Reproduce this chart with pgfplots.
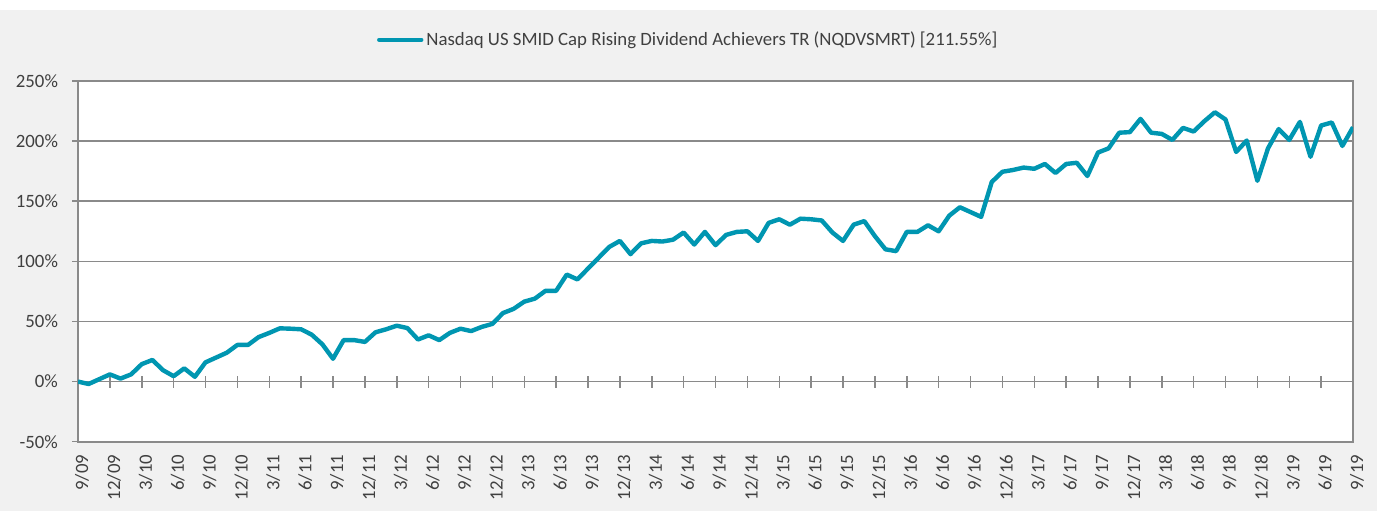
\documentclass[border=0pt]{standalone}
\usepackage{fontspec}
\setmainfont{Carlito}
\usepackage{pgfplots}
\pgfplotsset{compat=1.18}
\definecolor{lineteal}{HTML}{0096B1}
\definecolor{bggrey}{HTML}{F1F1F1}
\definecolor{axgrey}{HTML}{8A8A8A}
\definecolor{txtgrey}{HTML}{404040}
\begin{document}
\begin{tikzpicture}
\fill[white] (0,0) rectangle (693pt,255.5pt);
\fill[bggrey] (0,0) rectangle (688.5pt,250.5pt);
\begin{axis}[
  at={(39pt,34.65pt)}, anchor=south west,
  scale only axis, width=637.5pt, height=180.35pt,
  xmin=0, xmax=120, ymin=-50, ymax=250,
  axis background/.style={fill=white},
  axis line style={axgrey, line width=0.8pt},
  ymajorgrids, grid style={axgrey, line width=0.75pt},
  ytick={-50,0,50,100,150,200,250},
  yticklabels={-50\%,0\%,50\%,100\%,150\%,200\%,250\%},
  ytick pos=left, tick align=outside,
  major tick length=3pt,
  ytick style={axgrey, line width=0.75pt},
  xtick={0,3,...,120},
  xticklabels={9/09,12/09,3/10,6/10,9/10,12/10,3/11,6/11,9/11,12/11,3/12,6/12,9/12,12/12,3/13,6/13,9/13,12/13,3/14,6/14,9/14,12/14,3/15,6/15,9/15,12/15,3/16,6/16,9/16,12/16,3/17,6/17,9/17,12/17,3/18,6/18,9/18,12/18,3/19,6/19,9/19},
  xtick style={draw=none},
  tick label style={font=\fontsize{9.4pt}{11pt}\selectfont, text=txtgrey},
  xticklabel style={rotate=90, anchor=east, yshift=-2pt},
  yticklabel style={xshift=-3.5pt},
  legend style={at={(0.479,1.114)}, anchor=center, draw=none, fill=none,
    font=\fontsize{9.4pt}{11pt}\selectfont, text=txtgrey,
    nodes={inner sep=1.5pt}},
  legend image code/.code={\draw[#1, line cap=round] (0pt,0pt) -- (21pt,0pt);},
]
\pgfplotsinvokeforeach{3,6,...,117}{
  \draw[axgrey, line width=0.75pt] ([yshift=-3pt]axis cs:#1,0) -- ([yshift=3pt]axis cs:#1,0);
}
\addplot[lineteal, line width=2.2pt, line join=round] coordinates {
(0,0) (1,-2) (2,2) (3,6) (4,2.5) (5,6) (6,14.5) (7,18) (8,9.5) (9,4.5)
(10,11) (11,4) (12,16) (13,20) (14,24) (15,30.5) (16,30.5) (17,37) (18,40.5) (19,44.3)
(20,44) (21,43.5) (22,39) (23,31) (24,19) (25,34.5) (26,34.5) (27,33) (28,41) (29,43.5)
(30,46.5) (31,44.5) (32,35) (33,38.5) (34,34.5) (35,40.5) (36,44) (37,42) (38,45.5) (39,48)
(40,57) (41,60.5) (42,66.5) (43,69) (44,75.5) (45,75.5) (46,89) (47,85) (48,94) (49,103)
(50,112) (51,117) (52,106) (53,115) (54,117) (55,116.5) (56,118) (57,124) (58,114) (59,124.5)
(60,113.5) (61,122) (62,124.5) (63,125) (64,117) (65,132) (66,135) (67,130.5) (68,135.5) (69,135)
(70,134) (71,124) (72,117) (73,130.5) (74,133.5) (75,121) (76,110) (77,108.5) (78,124.5) (79,124.5)
(80,130) (81,125) (82,138) (83,145) (84,141) (85,137) (86,166) (87,174.5) (88,176) (89,178)
(90,177) (91,181) (92,173.5) (93,181) (94,182) (95,171) (96,190.5) (97,194) (98,207) (99,207.5)
(100,218.5) (101,207) (102,206) (103,201) (104,211) (105,208) (106,216.5) (107,224) (108,218) (109,191)
(110,200.5) (111,167) (112,194) (113,210) (114,201) (115,216) (116,187) (117,213) (118,215.5) (119,196)
(120,211.55)
};
\addlegendentry{Nasdaq US SMID Cap Rising Dividend Achievers TR (NQDVSMRT) [211.55\%]}
\end{axis}
\end{tikzpicture}
\end{document}
